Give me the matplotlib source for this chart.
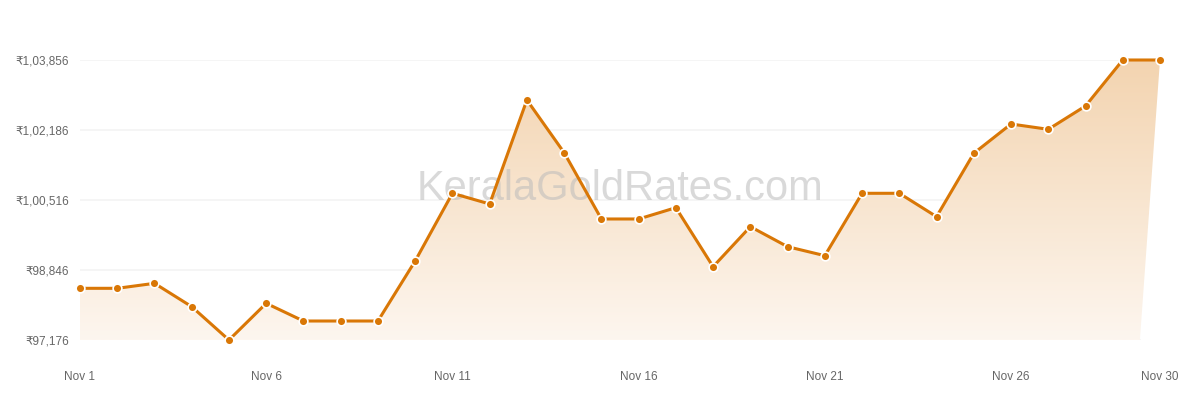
import matplotlib
matplotlib.use("Agg")
import matplotlib.pyplot as plt
import numpy as np
from matplotlib.patches import Polygon
from matplotlib.ticker import FuncFormatter

days = list(range(1, 31))
prices = [98409, 98409, 98528, 97971, 97176, 98051, 97629, 97629, 97629, 99061,
          100676, 100421, 102902, 101645, 100063, 100063, 100333, 98925, 99880, 99402,
          99188, 100676, 100676, 100118, 101630, 102329, 102202, 102759, 103856, 103856]
y_ticks = [97176, 98846, 100516, 102186, 103856]
x_ticks = [1, 6, 11, 16, 21, 26, 30]
x_labels = ["Nov 1", "Nov 6", "Nov 11", "Nov 16", "Nov 21", "Nov 26", "Nov 30"]

plt.rcParams['font.family'] = ['Liberation Sans', 'DejaVu Sans']

def indian(v, pos=None):
    s = str(int(round(v)))
    if len(s) > 3:
        head, tail = s[:-3], s[-3:]
        parts = []
        while len(head) > 2:
            parts.insert(0, head[-2:])
            head = head[:-2]
        if head:
            parts.insert(0, head)
        s = ",".join(parts) + "," + tail
    return "\u20b9" + s

fig = plt.figure(figsize=(12, 4), dpi=100)
ax = fig.add_axes([80/1200, 60/400, 1080/1200, 280/400])
ax.set_xlim(days[0], days[-1])
ax.set_ylim(y_ticks[0], y_ticks[-1])

line_color = "#d97706"

# gradient fill
x = np.array(days, dtype=float)
y = np.array(prices, dtype=float)
verts = list(zip(x, y)) + [(x[-1] - 0.54, y_ticks[0]), (x[0], y_ticks[0])]
poly = Polygon(verts, closed=True, facecolor="none", edgecolor="none")
ax.add_patch(poly)
grad = np.linspace(0, 1, 256).reshape(-1, 1)
top = np.array([243, 212, 176]) / 255.0
bot = np.array([253, 246, 239]) / 255.0
img = bot + (top - bot) * grad
img = img.reshape(256, 1, 3)
im = ax.imshow(img, extent=[x[0], x[-1], y_ticks[0], y_ticks[-1]], origin="lower",
               aspect="auto", zorder=1)
im.set_clip_path(poly)

for t in y_ticks:
    ax.axhline(t, xmin=0, xmax=(x[-1] - 0.54 - x[0]) / (x[-1] - x[0]),
               color="#f4f4f4", lw=1.2, zorder=0.5)

ax.text(0.5, 0.54, "KeralaGoldRates.com", transform=ax.transAxes, ha="center", va="center",
        fontsize=30, color="#bbbbbb", alpha=0.55, zorder=2)

ax.plot(x, y, color=line_color, lw=2.2, zorder=3, clip_on=False,
        marker="o", markersize=6.3, markerfacecolor=line_color,
        markeredgecolor="white", markeredgewidth=1.2)

for s in ax.spines.values():
    s.set_visible(False)
ax.set_yticks(y_ticks)
ax.yaxis.set_major_formatter(FuncFormatter(indian))
ax.set_xticks(x_ticks)
ax.set_xticklabels(x_labels)
ax.tick_params(axis="both", length=0, labelsize=8.5, colors="#666666")
ax.tick_params(axis="x", pad=22)
ax.tick_params(axis="y", pad=8)

fig.savefig("out.png", dpi=100, facecolor="white")
